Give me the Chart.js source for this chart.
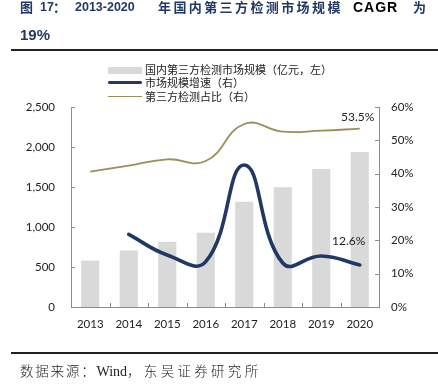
<!DOCTYPE html>
<html>
<head>
<meta charset="utf-8">
<script src="https://cdn.jsdelivr.net/npm/chart.js@4.4.1/dist/chart.umd.min.js"></script>
<style>
  html, body { margin: 0; padding: 0; background: #fff; }
  #wrap { position: relative; width: 438px; height: 389px; overflow: hidden; }
  #c { position: absolute; left: 0; top: 0; }
  .t { position: absolute; line-height: 16px; color: #1f3864; font-weight: bold; font-family: "Liberation Sans", Arial, sans-serif; font-size: 12.5px; white-space: nowrap; }
  .t.cj { font-family: "Noto Sans CJK SC", sans-serif; font-size: 13px; letter-spacing: 2.4px; }
  .t.en { color: #000; letter-spacing: 1px; font-size: 14px; }
  .rule { position: absolute; left: 11px; width: 427px; height: 2px; background: #222; }
  .src { position: absolute; left: 20px; top: 361px; font-family: "Liberation Serif", serif; font-size: 14px; line-height: 18px; color: #222; white-space: nowrap; }
  .src .cj { font-family: "Noto Sans CJK SC", sans-serif; font-size: 13.5px; letter-spacing: 1.8px; font-weight: 300; }
  .src .cj2 { letter-spacing: 3.3px; }
  .legend { position: absolute; left: 108px; top: 63px; font-family: "Noto Sans CJK SC", sans-serif; font-size: 11px; color: #222; }
  .legend .row { position: relative; height: 13.3px; line-height: 13.3px; padding-left: 37px; white-space: nowrap; }
  .legend .sw { position: absolute; left: 0; }
</style>
</head>
<body>
<div id="wrap">
  <canvas id="c" width="438" height="389"></canvas>
  <span class="t cj" style="left:20px;top:-1px">图</span>
  <span class="t" style="left:40px;top:-1px">17</span>
  <span class="t cj" style="left:53px;top:-1px">：</span>
  <span class="t" style="left:75px;top:-1px">2013-2020</span>
  <span class="t cj" style="left:158px;top:-1px">年国内第三方检测市场规模</span>
  <span class="t en" style="left:353px;top:-1px">CAGR</span>
  <span class="t cj" style="left:413px;top:-1px">为</span>
  <span class="t" style="left:20px;top:27px;font-size:15px">19%</span>
  <div class="rule" style="top:49px"></div>
  <div class="legend">
    <div class="row"><span class="sw" style="top:4px;width:34px;height:7px;background:#d9d9d9;border-radius:1px"></span>国内第三方检测市场规模（亿元，左）</div>
    <div class="row"><span class="sw" style="top:5px;width:34px;height:3px;background:#1f3864;border-radius:2px"></span>市场规模增速（右）</div>
    <div class="row"><span class="sw" style="top:6px;width:34px;height:1.6px;background:#9c8e57"></span>第三方检测占比（右）</div>
  </div>
  <div class="rule" style="top:352px"></div>
  <div class="src"><span class="cj">数据来源：</span>Wind<span class="cj cj2">，东吴证券研究所</span></div>
</div>
<script>
// ---- data ----
const categories = ["2013", "2014", "2015", "2016", "2017", "2018", "2019", "2020"];
const marketSize = [580, 705, 816, 929, 1316, 1496, 1725, 1937];           // 亿元, left axis
const marketGrowth = [null, 21.8, 15.6, 13.6, 42.6, 13.2, 15.3, 12.6];      // %, right axis
const thirdPartyShare = [40.6, 42.4, 44.3, 43.8, 54.9, 52.6, 52.9, 53.5];   // %, right axis
const leftTicks = [0, 500, 1000, 1500, 2000, 2500];
const rightTicks = [0, 10, 20, 30, 40, 50, 60];
const seriesNames = ["国内第三方检测市场规模（亿元，左）", "市场规模增速（右）", "第三方检测占比（右）"];

const tickFont = { family: "Lato, 'Open Sans', sans-serif", size: 11.5 };

const innerTicks = {
  id: 'innerTicks',
  afterDatasetsDraw(chart) {
    const ctx = chart.ctx;
    const x = chart.scales.x, yl = chart.scales.y, yr = chart.scales.y1;
    ctx.save();
    ctx.strokeStyle = '#8c8c8c';
    ctx.lineWidth = 1;
    ctx.beginPath();
    leftTicks.forEach(v => { const p = Math.round(yl.getPixelForValue(v)) + 0.5; ctx.moveTo(yl.right, p); ctx.lineTo(yl.right + 4, p); });
    rightTicks.forEach(v => { const p = Math.round(yr.getPixelForValue(v)) + 0.5; ctx.moveTo(yr.left, p); ctx.lineTo(yr.left - 4, p); });
    const step = (x.right - x.left) / categories.length;
    for (let i = 0; i <= categories.length; i++) {
      const px = Math.round(x.getPixelForValue(i) - step / 2) + 0.5;
      ctx.moveTo(px, x.top); ctx.lineTo(px, x.top - 4);
    }
    ctx.stroke();
    // data labels for last points
    ctx.fillStyle = '#222';
    ctx.font = "12px Lato, 'Open Sans', sans-serif";
    ctx.textAlign = 'center';
    ctx.textBaseline = 'middle';
    const mShare = chart.getDatasetMeta(2).data[categories.length - 1];
    ctx.fillText(thirdPartyShare[categories.length - 1].toFixed(1) + '%', mShare.x - 2, mShare.y - 12);
    const mGrowth = chart.getDatasetMeta(1).data[categories.length - 1];
    ctx.fillText(marketGrowth[categories.length - 1].toFixed(1) + '%', mGrowth.x - 11, mGrowth.y - 24);
    ctx.restore();
  }
};

new Chart(document.getElementById('c'), {
  data: {
    labels: categories,
    datasets: [
      { type: 'bar', label: seriesNames[0], data: marketSize, yAxisID: 'y', backgroundColor: '#d9d9d9',
        barPercentage: 0.47, categoryPercentage: 1.0, order: 3 },
      { type: 'line', label: seriesNames[1], data: marketGrowth, yAxisID: 'y1', borderColor: '#1f3864',
        borderWidth: 3.6, tension: 0.45, pointRadius: 0, fill: false, order: 1, borderCapStyle: 'round' },
      { type: 'line', label: seriesNames[2], data: thirdPartyShare, yAxisID: 'y1', borderColor: '#9c8e57',
        borderWidth: 1.8, tension: 0.45, pointRadius: 0, fill: false, order: 2 }
    ]
  },
  options: {
    responsive: false,
    animation: false,
    layout: { padding: { top: 107, left: 0, right: 0, bottom: 0 } },
    plugins: { legend: { display: false }, tooltip: { enabled: false } },
    scales: {
      x: {
        offset: true,
        grid: { display: false, drawTicks: false },
        border: { color: '#8c8c8c', width: 1 },
        ticks: { color: '#222', font: tickFont, padding: 10, maxRotation: 0 },
        afterFit(s) { s.height = 82; }
      },
      y: {
        position: 'left', min: 0, max: 2500,
        afterBuildTicks(s) { s.ticks = leftTicks.map(v => ({ value: v })); },
        grid: { display: false, drawTicks: false },
        border: { color: '#8c8c8c', width: 1 },
        ticks: { color: '#222', font: tickFont, padding: 16, callback: v => v.toLocaleString('en-US') },
        afterFit(s) { s.width = 71; }
      },
      y1: {
        position: 'right', min: 0, max: 60,
        afterBuildTicks(s) { s.ticks = rightTicks.map(v => ({ value: v })); },
        grid: { display: false, drawTicks: false },
        border: { color: '#8c8c8c', width: 1 },
        ticks: { color: '#222', font: tickFont, padding: 12, callback: v => v + '%' },
        afterFit(s) { s.width = 59; }
      }
    }
  },
  plugins: [innerTicks]
});
</script>
</body>
</html>
